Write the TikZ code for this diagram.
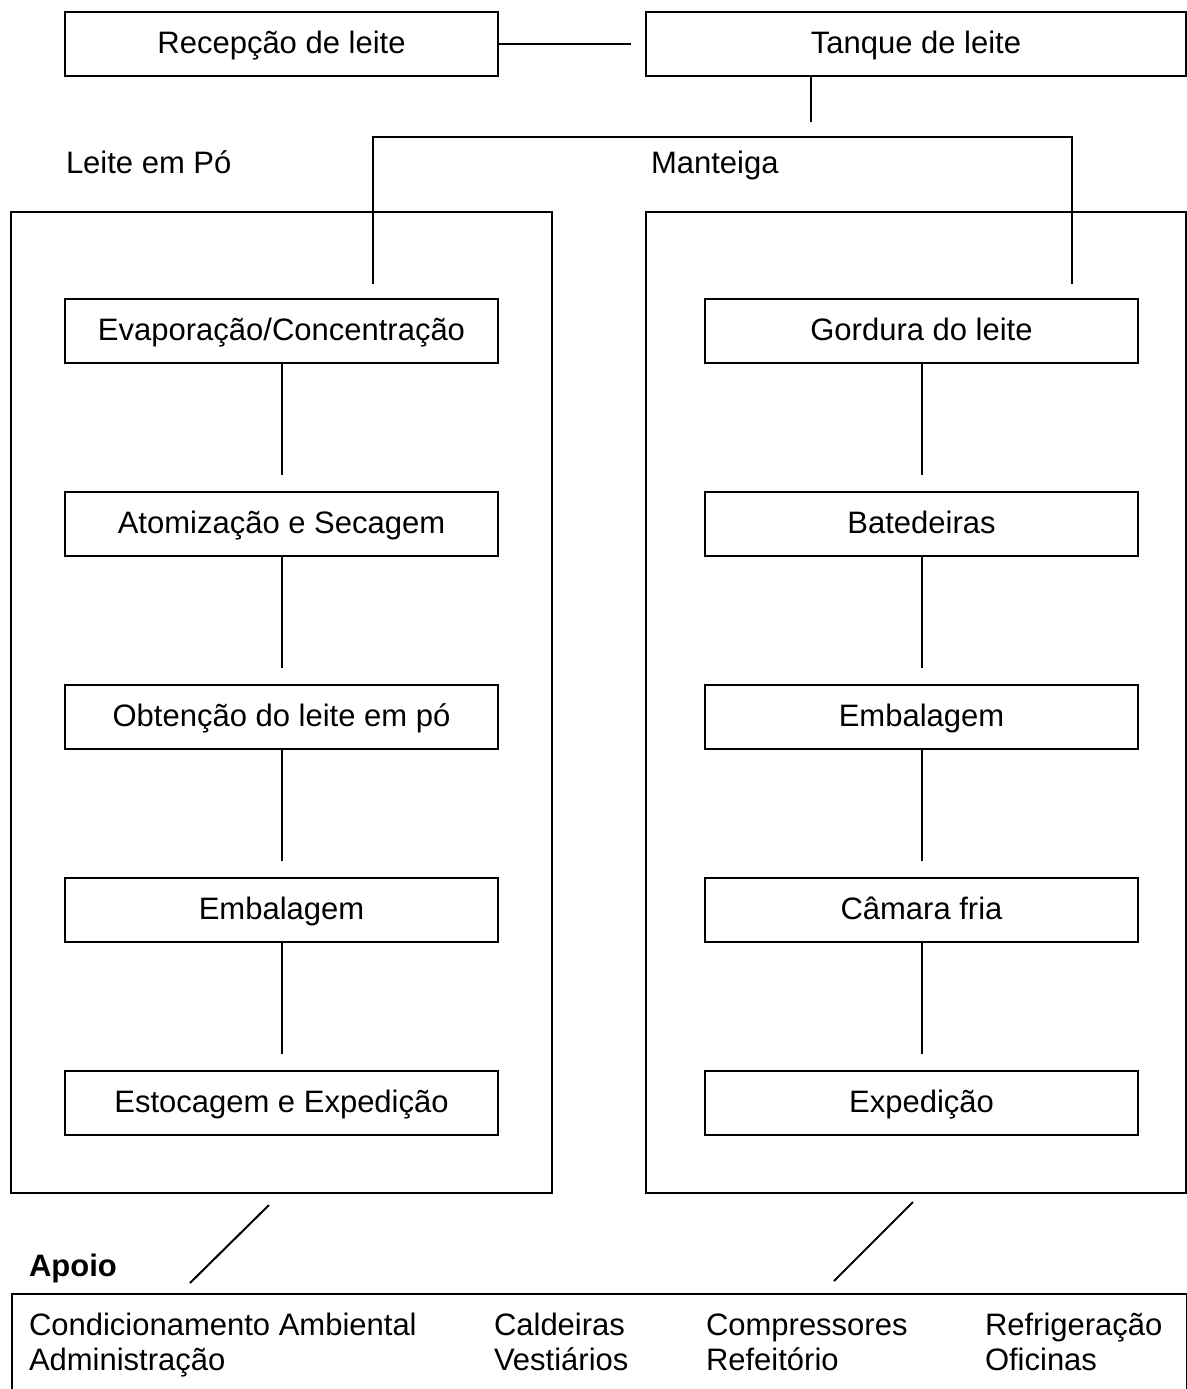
\documentclass[tikz,border=0pt]{standalone}
\usepackage{fontspec}
\setmainfont{Liberation Sans}
\usetikzlibrary{positioning}

\begin{document}
\begin{tikzpicture}[x=0.5pt,y=-0.5pt,line width=1pt,node distance=96.5pt,
  font=\fontsize{15.5}{17.5}\selectfont,
  step box/.style={draw,minimum width=216.5pt,minimum height=32pt,inner sep=0pt,
    text height=9.1pt,text depth=0pt},
  big box/.style={draw,minimum width=270.5pt,minimum height=490.5pt,inner sep=0pt},
  plain text/.style={inner sep=0pt,anchor=base west},
  list text/.style={inner sep=0pt,anchor=north west,align=left},
  short link/.style={shorten >=8pt}]

  \clip (0,0) rectangle (1187,1389);

  % top
  \node[step box] (recep) at (281.5,44) {Recepção de leite};
  \node[step box,minimum width=270pt] (tanque) at (916,44) {Tanque de leite};
  \path (recep) edge[shorten >=7pt] (tanque);
  \coordinate (split) at (811,122);
  \draw (split |- tanque.south) -- (split);

  % groups
  \node[plain text] (lpo) at (65,173) {Leite em Pó};
  \node[plain text] (lmant) at (650,173) {Manteiga};
  \node[big box] (po) at (281.5,702.5) {};
  \node[big box,minimum width=270pt] (mant) at (916,702.5) {};

  \coordinate (brL) at (373,284);
  \coordinate (brtop) at (373,137);
  \coordinate (brR) at (1072,284);
  \draw (brL) -- (brtop) -| (brR);

  % leite em po
  \node[step box] (evap) at (281.5,331) {Evaporação/Concentração};
  \node[step box] (atom) [below of=evap] {Atomização e Secagem};
  \node[step box] (obt) [below of=atom] {Obtenção do leite em pó};
  \node[step box] (emb) [below of=obt] {Embalagem};
  \node[step box] (est) [below of=emb] {Estocagem e Expedição};
  \path (evap) edge[short link] (atom) (atom) edge[short link] (obt)
    (obt) edge[short link] (emb) (emb) edge[short link] (est);

  % manteiga
  \node[step box] (gord) at (921.5,331) {Gordura do leite};
  \node[step box] (bat) [below of=gord] {Batedeiras};
  \node[step box] (embm) [below of=bat] {Embalagem};
  \node[step box] (cam) [below of=embm] {Câmara fria};
  \node[step box] (exp) [below of=cam] {Expedição};
  \path (gord) edge[short link] (bat) (bat) edge[short link] (embm)
    (embm) edge[short link] (cam) (cam) edge[short link] (exp);

  % apoio
  \node[plain text,font=\fontsize{15.5}{17.5}\selectfont\bfseries] (apoio) at (28,1276) {Apoio};
  \node[draw,anchor=north west,minimum width=587.5pt,minimum height=60pt,inner sep=0pt] (apoiobox) at (11,1293) {};
  \coordinate (poA) at (269,1205);
  \coordinate (poB) at (190,1283);
  \coordinate (mantA) at (913,1202);
  \coordinate (mantB) at (834,1281);
  \draw (poA) -- (poB);
  \draw (mantA) -- (mantB);

  \node[list text] (ap1) at (28,1309.5) {\strut Condicionamento Ambiental\\\strut Administração};
  \node[list text] (ap2) at (493,1309.5) {\strut Caldeiras\\\strut Vestiários};
  \node[list text] (ap3) at (705,1309.5) {\strut Compressores\\\strut Refeitório};
  \node[list text] (ap4) at (984,1309.5) {\strut Refrigeração\\\strut Oficinas};
\end{tikzpicture}
\end{document}
